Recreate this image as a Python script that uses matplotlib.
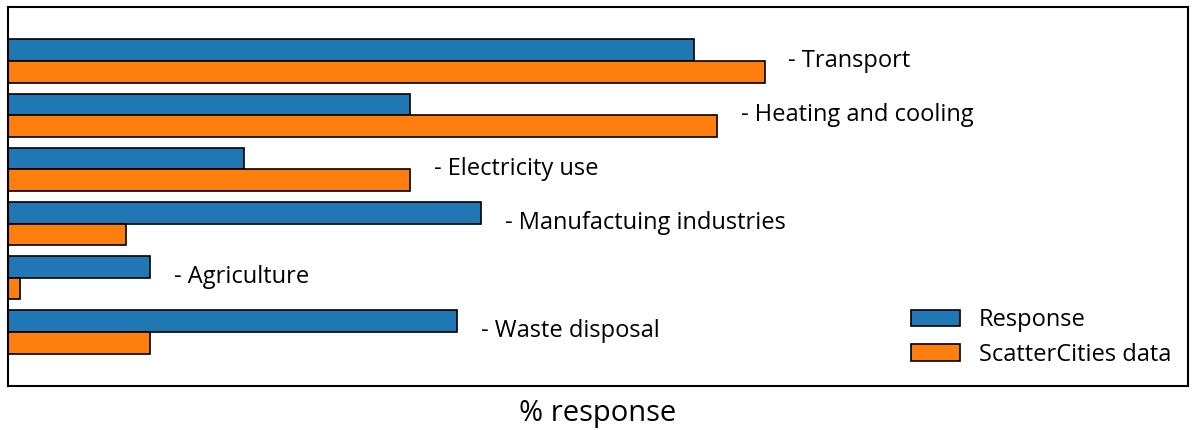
import matplotlib
matplotlib.use('Agg')
import matplotlib.pyplot as plt
import numpy as np

plt.rcParams['font.family'] = ['Open Sans', 'DejaVu Sans']

# data
categories = ['Transport', 'Heating and cooling', 'Electricity use',
              'Manufactuing industries', 'Agriculture', 'Waste disposal']
response = [14.5, 8.5, 5.0, 10.0, 3.0, 9.5]
scatter_cities = [16.0, 15.0, 8.5, 2.5, 0.25, 3.0]

fig = plt.figure(figsize=(11.94, 4.3), dpi=100)
ax = fig.add_axes([8 / 1194, 1 - 386 / 430, 1180 / 1194, 379 / 430])

y = np.arange(len(categories))
h = 0.4
ax.barh(y - h / 2, response, height=h, color='#1f77b4', edgecolor='black',
        linewidth=1.2, label='Response')
ax.barh(y + h / 2, scatter_cities, height=h, color='#ff7f0e', edgecolor='black',
        linewidth=1.2, label='ScatterCities data')

# category labels to the right of each pair of bars
for i, name in enumerate(categories):
    x = max(response[i], scatter_cities[i]) + 0.5
    ax.text(x, i - 0.01, '- ' + name, va='center', ha='left', fontsize=17)

ax.set_ylim(len(categories), -1)
ax.set_xlim(0, 24.95)
ax.set_xticks([])
ax.set_yticks([])
for s in ax.spines.values():
    s.set_linewidth(1.5)

ax.set_xlabel('% response', fontsize=21, labelpad=9)
ax.legend(loc='lower right', frameon=False, fontsize=17, labelspacing=0.45,
          handlelength=2.1, handleheight=0.7, bbox_to_anchor=(1.004, -0.006))

fig.savefig('out.png', dpi=100)
